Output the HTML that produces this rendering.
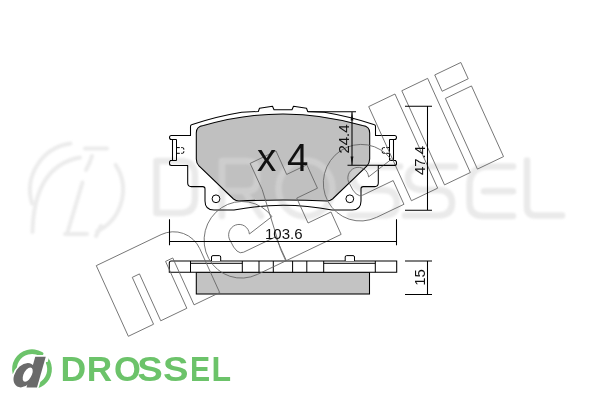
<!DOCTYPE html><html><head><meta charset="utf-8"><style>html,body{margin:0;padding:0;background:#fff;overflow:hidden}svg{display:block}</style></head><body><svg width="600" height="400" viewBox="0 0 600 400" >
<rect width="600" height="400" fill="#fff"/>
<path d="M203.5,125.6 A282,282 0 0 1 362.5,125.6 Q369.7,126.4 369.7,133 L369.7,159 Q369.5,163 367,166 L332.5,199 Q330,201 327,201 Q283,199 239,201 Q236,201 233.5,199 L199,166 Q196.3,163 196.3,159 L196.3,133 Q196.3,126.4 203.5,125.6 Z" fill="#c0c0c0"/>
<filter id="bl" x="-10%" y="-10%" width="120%" height="120%"><feGaussianBlur stdDeviation="1"/></filter><g filter="url(#bl)" opacity="0.55">
<path d="M156.5,161 L156.5,213 L180,213 Q195,213 195,198 L195,176 Q195,161 180,161 Z" fill="none" stroke="#d9d9d9" stroke-width="6.5" stroke-linecap="round" stroke-linejoin="round"/>
<path d="M222,216 L222,161 L247,161 Q257,161 257,171 L257,181 Q257,191 247,191 L222,191 M244,191 L261,216" fill="none" stroke="#d9d9d9" stroke-width="6.5" stroke-linecap="round" stroke-linejoin="round"/>
<ellipse cx="305.5" cy="188.5" rx="27" ry="28" fill="none" stroke="#d9d9d9" stroke-width="6.5" stroke-linecap="round" stroke-linejoin="round"/>
<path d="M400,166.4 L369,166.4 Q353,166.4 353,178 Q353,190 369,190 L383,190 Q397,190 397,203 Q397,215.5 383,215.5 L350,215.5" fill="none" stroke="#d9d9d9" stroke-width="6.5" stroke-linecap="round" stroke-linejoin="round"/>
<path d="M455,166.4 L424,166.4 Q408,166.4 408,178 Q408,190 424,190 L438,190 Q452,190 452,203 Q452,215.5 438,215.5 L405,215.5" fill="none" stroke="#d9d9d9" stroke-width="6.5" stroke-linecap="round" stroke-linejoin="round"/>
<path d="M513,166.4 L489,166.4 Q469.5,166.4 469.5,186 L469.5,202 Q469.5,216 483.5,216 L513,216 M484,191.2 L513,191.2" fill="none" stroke="#d9d9d9" stroke-width="6.5" stroke-linecap="round" stroke-linejoin="round"/>
<path d="M527,160.5 L527,207 Q527,215.5 536,215.5 L562,215.5" fill="none" stroke="#d9d9d9" stroke-width="6.5" stroke-linecap="round" stroke-linejoin="round"/>
<path d="M32.1,203.7 A47,47 0 0 1 70.5,143.5" fill="none" stroke="#dcdcdc" stroke-width="4" stroke-linecap="round"/>
<path d="M115.6,164.9 A46,46 0 0 1 97.2,231.3" fill="none" stroke="#dcdcdc" stroke-width="4" stroke-linecap="round"/>
<path d="M85,148.5 L107,148.5 M92,156 Q90,163 86,170 M32.5,232 Q34,166 80,157.5 M82.5,182.5 L67.5,232.5 M65,234 L87,234 M101,226 L96,236" fill="none" stroke="#dcdcdc" stroke-width="4" stroke-linecap="round"/>
</g>
<path d="M283.0,109.7 L274,109.7 L272.5,106.3 L259.5,108.3 L258.3,111.5 L241.7,112.2 Q216.1,116.4 191.5,124.7 Q190.5,125 190.5,126.5 L190.5,135.5 L171.5,135.5 Q169.5,135.5 169.5,137.5 Q169.5,139.5 171.5,139.5 L172.5,139.5 L172.5,160.5 L171.5,160.5 Q169.5,160.5 169.5,162.5 L169.5,163.5 Q169.5,165.5 171.5,165.5 L187.7,165.5 L187.7,183 Q187.7,186.6 191.3,186.6 L202.8,186.6 Q205,186.6 205,188.8 L205,201 Q205,210 214,210 L234,210 Q258.5,205.25 283,205.25 Q307.5,205.25 332.0,210 L352.0,210 Q361.0,210 361.0,201 L361.0,188.8 Q361.0,186.6 363.2,186.6 L374.7,186.6 Q378.3,186.6 378.3,183 L378.3,165.5 L394.5,165.5 Q396.5,165.5 396.5,163.5 L396.5,162.5 Q396.5,160.5 394.5,160.5 L393.5,160.5 L393.5,139.5 L394.5,139.5 Q396.5,139.5 396.5,137.5 Q396.5,135.5 394.5,135.5 L375.5,135.5 L375.5,126.5 Q375.5,125 374.5,124.7 Q349.9,116.4 324.3,112.2 L307.7,111.5 L306.5,108.3 L293.5,106.3 L292.0,109.7 L283.0,109.7 Z" fill="none" stroke="#000" stroke-width="1.05" stroke-linejoin="round"/>
<path d="M203.5,125.6 A282,282 0 0 1 362.5,125.6 Q369.7,126.4 369.7,133 L369.7,159 Q369.5,163 367,166 L332.5,199 Q330,201 327,201 Q283,199 239,201 Q236,201 233.5,199 L199,166 Q196.3,163 196.3,159 L196.3,133 Q196.3,126.4 203.5,125.6 Z" fill="none" stroke="#000" stroke-width="1.05"/>
<path d="M176.5,139.5 L176.5,160.5 M389.5,139.5 L389.5,160.5 M170,139.5 L176.5,139.5 M170,160.5 L176.5,160.5 M389.5,139.5 L396,139.5 M389.5,160.5 L396,160.5" stroke="#000" stroke-width="1.0" fill="none"/>
<path d="M176.5,147.6 L179.8,147.6 M181.2,147.6 L182.5,147.6 Q183.8,147.6 183.8,149 L183.8,149.7 M183.8,151.2 L183.8,151.9 Q183.8,153.3 182.5,153.3 L181.2,153.3 M179.8,153.3 L176.5,153.3" stroke="#000" stroke-width="1.0" fill="none"/>
<path d="M389.5,147.6 L386.2,147.6 M384.8,147.6 L383.5,147.6 Q382.2,147.6 382.2,149 L382.2,149.7 M382.2,151.2 L382.2,151.9 Q382.2,153.3 383.5,153.3 L384.8,153.3 M386.2,153.3 L389.5,153.3" stroke="#000" stroke-width="1.0" fill="none"/>
<circle cx="216" cy="198.8" r="3.9" fill="#fff" stroke="#000" stroke-width="1.0"/>
<circle cx="349.8" cy="198.8" r="3.9" fill="#fff" stroke="#000" stroke-width="1.0"/>
<rect x="196.3" y="272.3" width="173.2" height="21.7" fill="#c3c3c3" stroke="#000" stroke-width="1.05"/>
<path d="M169.3,272.3 L169.3,263 Q169.3,261 171.3,261 L396.7,261 L396.7,272.3 Z" fill="#fff" stroke="#000" stroke-width="1.05"/>
<path d="M190.5,263.3 L242.3,263.3 M323.7,263.3 L375.3,263.3 M190.5,261 L190.5,272.3 M242.3,261 L242.3,272.3 M259,261 L259,272.3 M273.3,261 L273.3,272.3 M292.6,261 L292.6,272.3 M306.8,261 L306.8,272.3 M323.7,261 L323.7,272.3 M375.3,261 L375.3,272.3" stroke="#000" stroke-width="1.0" fill="none"/>
<path d="M211.5,261 L211.5,257 Q211.5,255.6 213,255.6 L219.2,255.6 Q220.7,255.6 220.7,257 L220.7,261" fill="#fff" stroke="#000" stroke-width="1.0"/>
<path d="M345.2,261 L345.2,257 Q345.2,255.6 346.7,255.6 L353,255.6 Q354.5,255.6 354.5,257 L354.5,261" fill="#fff" stroke="#000" stroke-width="1.0"/>
<path transform="matrix(0.89972665,-0.43095232,0.41336806,0.91105192,96.29384188,265.64504315)" d="M0,0 L72.0,0 A29.5,29.5 0 0 1 101.5,29.5 L101.5,77.56 L73,77.56 L73,26.1 L65,26.1 L65,77.56 L36,77.56 L36,26.1 L28,26.1 L28,77.56 L0,77.56 Z M180.67,31.60 A38.0,38.0 0 1 0 143.5,77.5 L175.6,77.56 L175.6,51.5 L140.00,51.5 Q132.66,51.5 132.66,35.82 A10.5,10.5 0 1 1 152.87,37.59 Z M313.17,31.60 A38.0,38.0 0 1 0 276.0,77.5 L306.3,77.56 L306.3,51.5 L272.50,51.5 Q265.16,51.5 265.16,35.82 A10.5,10.5 0 1 1 285.37,37.59 Z M182.8,-25.76 L211.6,-25.76 L211.6,0 L234,0 L234,25.7 L211,25.7 L211,53 L236.5,53 L236.5,77.56 L175,77.56 L175,65 L183,3 Z M314.6,-25.76 L343.8,-25.76 L343.8,77.56 L314.6,77.56 Z M351.4,-25.76 L380.1,-25.76 L380.1,77.56 L351.4,77.56 Z M388,0 L417,0 L417,77.56 L388,77.56 Z M388,-25.76 L417,-25.76 L417,-7.86 L388,-7.86 Z" fill="none" stroke="#666" stroke-width="0.8"/>
<path d="M169.5,219.3 L169.5,245.3 M396.5,219.3 L396.5,245.3 M169.5,241.5 L396.5,241.5" stroke="#000" stroke-width="1.05" fill="none"/>
<path d="M307.7,111.8 L356,111.8 M347.5,165.3 L396,165.3 M352,112 L352,165" stroke="#000" stroke-width="1.05" fill="none"/>
<path d="M352,112 L350.6,120.5 L353.4,120.5 Z M352,165 L350.6,156.5 L353.4,156.5 Z" fill="#111"/>
<path d="M405,106.2 L432,106.2 M405,210.2 L432,210.2 M427.5,106.2 L427.5,210.2" stroke="#000" stroke-width="1.05" fill="none"/>
<path d="M405,261 L432,261 M405,294.4 L432,294.4 M427.5,261 L427.5,294.4" stroke="#000" stroke-width="1.05" fill="none"/>
<text x="265" y="239.3" font-size="15" font-family="Liberation Sans, sans-serif" fill="#111" style="filter:opacity(1)">103.6</text>
<text transform="translate(349,139) rotate(-90)" text-anchor="middle" font-size="15" font-family="Liberation Sans, sans-serif" fill="#111" style="filter:opacity(1)">24.4</text>
<text transform="translate(424.8,160.5) rotate(-90)" text-anchor="middle" font-size="15" font-family="Liberation Sans, sans-serif" fill="#111" style="filter:opacity(1)">47.4</text>
<text transform="translate(424.6,277.4) rotate(-90)" text-anchor="middle" font-size="15" font-family="Liberation Sans, sans-serif" fill="#111" style="filter:opacity(1)">15</text>
<text x="257" y="170.6" font-size="38.5" font-family="Liberation Sans, sans-serif" fill="#111" style="filter:opacity(1)">x 4</text>
<path d="M12.71,374.08 A19.9,19.9 0 1 1 37.15,388.42 L35.93,383.88 A15.2,15.2 0 1 0 17.26,372.93 Z" fill="#6cc36a"/>
<path d="M46.18,344 L52.78,344 L47.65,362 L41.05,362 Z" fill="#fff"/>
<g fill="#fff" stroke="#fff" stroke-width="3.4" stroke-linejoin="round"><path d="M35.25,356.75 L45.75,356.75 L37,387.4 L26.5,387.4 Z"/><ellipse cx="24.3" cy="375.2" rx="10.2" ry="12.2" transform="translate(24.3,375.2) skewX(-16) translate(-24.3,-375.2)"/></g>
<g fill="#6a6a6a"><path d="M35.25,356.75 L45.75,356.75 L37,387.4 L26.5,387.4 Z"/><ellipse cx="24.3" cy="375.2" rx="10.2" ry="12.2" transform="translate(24.3,375.2) skewX(-16) translate(-24.3,-375.2)"/></g>
<ellipse cx="27.7" cy="374.6" rx="4.3" ry="7.2" fill="#fff" transform="translate(27.7,374.6) skewX(-20) translate(-27.7,-374.6)"/>
<text style="filter:opacity(1)" transform="translate(60.4,380.8) scale(1.03,1)" font-family="Liberation Sans, sans-serif" font-weight="bold" font-size="34.5" fill="#6cc36a">D</text>
<text style="filter:opacity(1)" transform="translate(86.7,380.8) scale(1.02,1)" font-family="Liberation Sans, sans-serif" font-weight="bold" font-size="34.5" fill="#6cc36a">R</text>
<text style="filter:opacity(1)" transform="translate(114,380.8) scale(1.0,1)" font-family="Liberation Sans, sans-serif" font-weight="bold" font-size="34.5" fill="#6cc36a">O</text>
<text style="filter:opacity(1)" transform="translate(137.2,380.8) scale(1.11,1)" font-family="Liberation Sans, sans-serif" font-weight="bold" font-size="34.5" fill="#6cc36a">S</text>
<text style="filter:opacity(1)" transform="translate(163.1,380.8) scale(1.11,1)" font-family="Liberation Sans, sans-serif" font-weight="bold" font-size="34.5" fill="#6cc36a">S</text>
<text style="filter:opacity(1)" transform="translate(190,380.8) scale(0.875,1)" font-family="Liberation Sans, sans-serif" font-weight="bold" font-size="34.5" fill="#6cc36a">E</text>
<text style="filter:opacity(1)" transform="translate(211.4,380.8) scale(0.93,1)" font-family="Liberation Sans, sans-serif" font-weight="bold" font-size="34.5" fill="#6cc36a">L</text>
</svg></body></html>
